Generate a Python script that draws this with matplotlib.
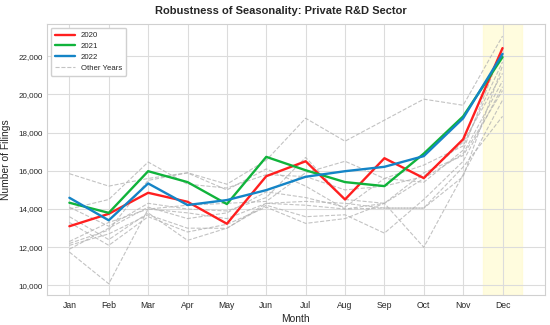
import numpy as np
import matplotlib
matplotlib.use("Agg")
import matplotlib.pyplot as plt
import seaborn as sns

# ----------------------------
# Data
# ----------------------------
months = ["Jan", "Feb", "Mar", "Apr", "May", "Jun",
          "Jul", "Aug", "Sep", "Oct", "Nov", "Dec"]

y2020 = [13100, 13750, 14850, 14380, 13230, 15720, 16500, 14500, 16660, 15620, 17650, 22420]
y2021 = [14330, 13800, 15980, 15410, 14260, 16730, 16030, 15410, 15200, 16900, 18850, 21950]
y2022 = [14590, 13410, 15340, 14210, 14470, 14990, 15690, 15980, 16210, 16770, 18750, 22120]

# other years (light dashed background lines)
other_2012 = [15850, 15200, 15600, 15900, 15300, 16550, 18750, 17550, 18650, 19750, 19430, 23050]
other_2013 = [11750, 10090, 14000, 13800, 13500, 14300, 14400, 14300, 14050, 14050, 15700, 21500]
other_2014 = [14000, 14500, 16460, 15300, 15100, 15800, 15700, 15000, 15200, 15700, 17500, 21100]
other_2015 = [12200, 12900, 15500, 15890, 15000, 16100, 15200, 14000, 14300, 15600, 16900, 20700]
other_2016 = [13600, 12400, 13800, 12360, 13000, 14200, 13600, 13700, 12740, 14500, 16500, 20400]
other_2017 = [12100, 12700, 13700, 13000, 12990, 14300, 14200, 14000, 14050, 14050, 16200, 18850]
other_2018 = [13300, 12100, 13600, 12800, 13200, 14100, 13250, 13500, 14300, 12000, 15800, 19700]
other_2019 = [11900, 13000, 14100, 13500, 13800, 14900, 14600, 14100, 15600, 15400, 17080, 22400]
other_2023 = [12300, 13300, 14000, 14200, 14300, 14400, 15900, 16500, 15600, 16300, 17300, 21700]
other_2024 = [14100, 13100, 14300, 14000, 13900, 14600, 16700, 14500, 14300, 15900, 16800, 20200]

others = [other_2012, other_2013, other_2014, other_2015, other_2016,
          other_2017, other_2018, other_2019, other_2023, other_2024]

# ----------------------------
# Plot
# ----------------------------
sns.set_style("whitegrid")
plt.rcParams["font.family"] = ["Liberation Sans", "DejaVu Sans"]

fig, ax = plt.subplots(figsize=(5.5, 3.25), dpi=100)
fig.subplots_adjust(left=0.085, right=0.991, top=0.926, bottom=0.091)

x = np.arange(len(months))

# December highlight
ax.axvspan(10.5, 11.5, color="#fffbd0", alpha=0.7, zorder=0)

for i, vals in enumerate(others):
    ax.plot(x, vals, color="#b4b4b4", linestyle="--", linewidth=0.8,
            alpha=0.8, label="Other Years" if i == 0 else None, zorder=1)

ax.plot(x, y2020, color="#ff1f1f", linewidth=1.7, label="2020", zorder=3)
ax.plot(x, y2021, color="#10b33b", linewidth=1.7, label="2021", zorder=3)
ax.plot(x, y2022, color="#1484c6", linewidth=1.7, label="2022", zorder=4)

ax.set_xticks(x)
ax.set_xticklabels(months)
ax.set_xlim(-0.575, 12.08)
ax.set_ylim(9480, 23680)
ax.set_yticks(np.arange(10000, 22001, 2000))
ax.yaxis.set_major_formatter(matplotlib.ticker.FuncFormatter(lambda v, p: f"{int(v):,}"))
ax.tick_params(axis="x", labelsize=6.2, length=0, pad=4)
ax.tick_params(axis="y", labelsize=5.8, length=0, pad=3)

ax.set_xlabel("Month", fontsize=7.4, labelpad=3)
ax.set_ylabel("Number of Filings", fontsize=7.4, labelpad=5)
ax.set_title("Robustness of Seasonality: Private R&D Sector",
             fontsize=8, fontweight="bold", pad=7, x=0.47)

ax.grid(True, color="#dcdcdc", linewidth=0.8)
for s in ax.spines.values():
    s.set_color("#d0d0d0")

handles, labels = ax.get_legend_handles_labels()
order = [labels.index(l) for l in ["2020", "2021", "2022", "Other Years"]]
ax.legend([handles[i] for i in order], [labels[i] for i in order],
          loc="upper left", fontsize=5.6, frameon=True, framealpha=1,
          edgecolor="#d0d0d0", borderpad=0.5, labelspacing=0.45,
          handlelength=2.6)

plt.savefig("out.png", dpi=100)
